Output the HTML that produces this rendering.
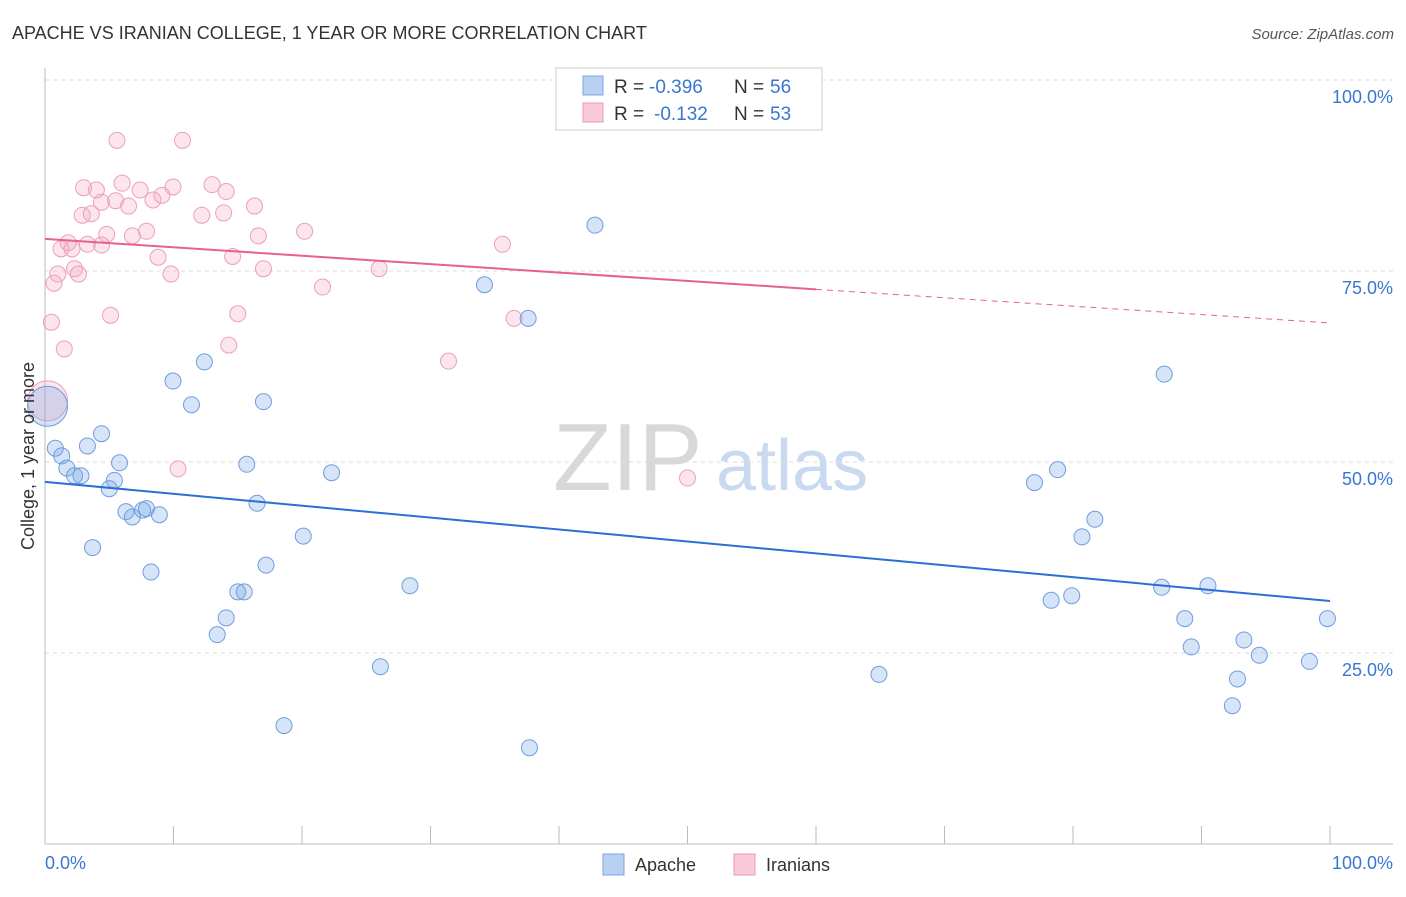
<!DOCTYPE html>
<html><head><meta charset="utf-8"><style>
body{margin:0;background:#fff;font-family:"Liberation Sans",sans-serif}
svg text{font-family:"Liberation Sans",sans-serif}
</style></head><body>
<svg id="c" width="1406" height="892" xmlns="http://www.w3.org/2000/svg">
<text x="12" y="39" font-size="18" fill="#333">APACHE VS IRANIAN COLLEGE, 1 YEAR OR MORE CORRELATION CHART</text>
<text x="1394" y="39" font-size="15" fill="#555" font-style="italic" text-anchor="end">Source: ZipAtlas.com</text>
<g><text x="553" y="490" font-size="96" font-family="Liberation Serif" fill="#d8d8d8">ZIP</text><text x="716" y="490" font-size="72" fill="#c9d9f0">atlas</text></g>
<g id="grid"></g><g id="pts"></g><g id="lines"></g>
<text transform="translate(34,456) rotate(-90)" font-size="18" fill="#333" text-anchor="middle">College, 1 year or more</text>
<text x="45" y="869" font-size="18" fill="#3a76d1">0.0%</text>
<text x="1393" y="869" font-size="18" fill="#3a76d1" text-anchor="end">100.0%</text>
<g>
<rect x="556" y="68" width="266" height="62" fill="#fff" stroke="#ccc"/>
<rect x="583" y="76" width="20" height="19" fill="#b8d1f3" stroke="#7aa5e3"/>
<text x="614" y="93" font-size="19" fill="#333">R =</text>
<text x="649" y="93" font-size="19" fill="#3a76d1">-0.396</text>
<text x="734" y="93" font-size="19" fill="#333">N =</text>
<text x="770" y="93" font-size="19" fill="#3a76d1">56</text>
<rect x="583" y="103" width="20" height="19" fill="#f9c9d7" stroke="#ea9ab3"/>
<text x="614" y="120" font-size="19" fill="#333">R =</text>
<text x="654" y="120" font-size="19" fill="#3a76d1">-0.132</text>
<text x="734" y="120" font-size="19" fill="#333">N =</text>
<text x="770" y="120" font-size="19" fill="#3a76d1">53</text>
</g>
<g>
<rect x="603" y="854" width="21" height="21" fill="#b8d1f3" stroke="#7aa5e3"/>
<text x="635" y="871" font-size="18" fill="#333">Apache</text>
<rect x="734" y="854" width="21" height="21" fill="#f9c9d7" stroke="#ea9ab3"/>
<text x="766" y="871" font-size="18" fill="#333">Iranians</text>
</g>
</svg>
<script>
const yTicks=[25,50,75,100];
const yTickLabels=["25.0%","50.0%","75.0%","100.0%"];
const apacheX=[42.8,34.2,37.6,87.1,9.96,12.4,11.4,17.0,0.2,4.4,0.8,3.3,1.3,1.7,2.3,2.8,5.8,5.4,5.0,15.7,22.3,78.8,77.0,16.5,6.3,6.8,7.6,7.9,8.9,81.7,80.7,20.1,8.25,3.7,17.2,28.4,86.9,90.5,15.0,15.5,78.3,79.9,14.1,88.7,99.8,13.4,89.2,93.3,94.5,98.4,26.1,64.9,92.8,92.4,18.6,37.7];
const apacheY=[81.0,73.2,68.8,61.5,60.6,63.1,57.5,57.9,57.3,53.7,51.8,52.1,50.8,49.2,48.2,48.2,49.9,47.6,46.5,49.7,48.6,49.0,47.3,44.6,43.5,42.8,43.7,43.9,43.1,42.5,40.2,40.3,35.6,38.8,36.5,33.8,33.6,33.8,33.0,33.0,31.9,32.5,29.6,29.5,29.5,27.4,25.8,26.7,24.7,23.9,23.2,22.2,21.6,18.1,15.5,12.6];
const iranX=[54.6,5.6,10.7,3.0,4.0,6.0,7.4,9.96,13.0,9.1,14.1,4.4,5.5,6.5,8.4,16.3,2.9,3.6,12.2,13.9,4.8,6.8,7.9,16.6,20.2,1.8,1.25,2.1,3.3,4.4,35.6,8.8,14.6,2.3,2.6,1.0,9.8,17.0,26.0,0.7,21.6,5.1,15.0,0.5,36.5,1.5,14.3,31.4,0.2,10.35,50.0];
const iranY=[100,92.1,92.1,85.9,85.6,86.5,85.6,86.0,86.3,84.9,85.4,84.0,84.2,83.5,84.3,83.5,82.3,82.5,82.3,82.6,79.8,79.6,80.2,79.6,80.2,78.7,77.9,77.9,78.5,78.4,78.5,76.8,76.9,75.3,74.6,74.6,74.6,75.3,75.3,73.4,72.9,69.2,69.4,68.3,68.8,64.8,65.3,63.2,58.0,49.1,47.9];
const apacheFit=[47.4,31.8], iranFit=[79.2,68.2], iranSolidEnd=60;
const X=v=>45+v*12.85, Y=v=>844-v*7.64;
const NS="http://www.w3.org/2000/svg";
function mk(t,a,p){const e=document.createElementNS(NS,t);for(const k in a)e.setAttribute(k,a[k]);p.appendChild(e);return e;}
const g=document.getElementById('grid'),P=document.getElementById('pts'),L=document.getElementById('lines');
yTicks.forEach((t,i)=>{
 const l=mk('line',{x1:45,x2:1393,y1:Y(t),y2:Y(t),stroke:'#ddd','stroke-dasharray':'4,4'},g);
 
 
 const tx=mk('text',{x:1393,y:Y(t)+23,'font-size':18,fill:'#3a76d1','text-anchor':'end'},g);tx.textContent=yTickLabels[i];
 
 
});
const ax=mk('line',{x1:45,x2:1393,y1:844,y2:844,stroke:'#bbb'},g);


const ay=mk('line',{x1:45,x2:45,y1:68,y2:844,stroke:'#bbb'},g);


for(let i=0;i<=10;i++){const t=mk('line',{x1:X(i*10),x2:X(i*10),y1:826,y2:844,stroke:'#bbb'},g);
 
 }
function pts(xs,ys,fill,stroke,name){xs.forEach((x,i)=>{const big=x<0.6&&(ys[i]>55&&ys[i]<60);
 const c=mk('circle',{cx:X(x),cy:Y(ys[i]),r:big?20:8,fill:fill,stroke:stroke,'stroke-width':1},P);
 
 });}
pts(iranX,iranY,'rgba(244,170,196,0.3)','#eaa0ba','iranian-point');
pts(apacheX,apacheY,'rgba(120,165,230,0.3)','#6f9de0','apache-point');
const bl=mk('line',{x1:X(0),y1:Y(apacheFit[0]),x2:X(100),y2:Y(apacheFit[1]),stroke:'#2a6fd6','stroke-width':2},L);


const f=t=>iranFit[0]+(iranFit[1]-iranFit[0])*t/100;
const pl=mk('line',{x1:X(0),y1:Y(f(0)),x2:X(iranSolidEnd),y2:Y(f(iranSolidEnd)),stroke:'#e8608f','stroke-width':2},L);


const pd=mk('line',{x1:X(iranSolidEnd),y1:Y(f(iranSolidEnd)),x2:X(100),y2:Y(f(100)),stroke:'#e8608f','stroke-width':1,'stroke-dasharray':'6,5'},L);


</script>
</body></html>
